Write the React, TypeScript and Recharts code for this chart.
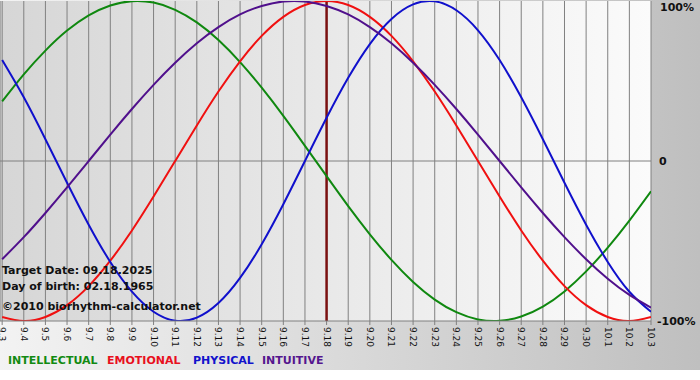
import React from 'react';
import { LineChart, Line, XAxis, YAxis, CartesianGrid, ReferenceLine } from 'recharts';

const days = ['9.3','9.4','9.5','9.6','9.7','9.8','9.9','9.10','9.11','9.12','9.13','9.14','9.15','9.16','9.17','9.18','9.19','9.20','9.21','9.22','9.23','9.24','9.25','9.26','9.27','9.28','9.29','9.30','10.1','10.2','10.3'];

const intellectual = [37.2,54.1,69.0,81.5,91.0,97.2,99.9,99.0,94.5,86.6,75.6,61.8,45.8,28.2,9.5,-9.5,-28.2,-45.8,-61.8,-75.6,-86.6,-94.5,-99.0,-99.9,-97.2,-91.0,-81.5,-69.0,-54.1,-37.2,-18.9];
const emotional = [-97.5,-100,-97.5,-90.1,-78.2,-62.3,-43.4,-22.2,0,22.2,43.4,62.3,78.2,90.1,97.5,100,97.5,90.1,78.2,62.3,43.4,22.2,0,-22.2,-43.4,-62.3,-78.2,-90.1,-97.5,-100,-97.5];
const physical = [63.1,39.8,13.6,-13.6,-39.8,-63.1,-81.7,-94.2,-99.8,-97.9,-88.8,-73.1,-52.0,-27.0,0,27.0,52.0,73.1,88.8,97.9,99.8,94.2,81.7,63.1,39.8,13.6,-13.6,-39.8,-63.1,-81.7,-94.2];
const intuitive = [-61.4,-47.6,-32.5,-16.5,0,16.5,32.5,47.6,61.4,73.6,83.7,91.6,96.9,99.7,99.7,96.9,91.6,83.7,73.6,61.4,47.6,32.5,16.5,0,-16.5,-32.5,-47.6,-61.4,-73.6,-83.7,-91.6];

const yTicks = [100, 0, -100];
const yLabels: Record<number, string> = { 100: '100%', 0: '0', [-100]: '-100%' };
const targetIndex = 15;
const infoLines = ['Target Date: 09.18.2025', 'Day of birth: 02.18.1965', '\u00A92010 biorhythm-calculator.net'];
const legendItems = [
  { name: 'INTELLECTUAL', color: '#128a12' },
  { name: 'EMOTIONAL', color: '#e8101e' },
  { name: 'PHYSICAL', color: '#1212cc' },
  { name: 'INTUITIVE', color: '#55168e' },
];

const data = days.map((d, i) => ({
  i,
  label: d,
  intellectual: intellectual[i],
  emotional: emotional[i],
  physical: physical[i],
  intuitive: intuitive[i],
}));

const FONT = '"DejaVu Sans", Verdana, sans-serif';

const XTick = (props: any) => {
  const { x, y, payload } = props;
  return (
    <text
      transform={`translate(${x},${y + 1}) rotate(90)`}
      textAnchor="start"
      dominantBaseline="central"
      fontFamily={FONT}
      fontSize={9}
      fill="#111"
    >
      {days[payload.value]}
    </text>
  );
};

const YTick = (props: any) => {
  const { y, payload } = props;
  const v = payload.value;
  const lx = v === 100 ? 660 : v === 0 ? 659 : 657;
  const ly = Math.max(y, 7);
  return (
    <text x={lx} y={ly} textAnchor="start" dominantBaseline="central" fontFamily={FONT} fontWeight="bold" fontSize={11} fill="#111">
      {yLabels[v]}
    </text>
  );
};

const legendX = [8, 107, 193, 262];
const infoY = [271, 287, 307];

export default function App() {
  return (
    <div style={{ position: 'absolute', left: 0, top: 0, width: 700, height: 380, background: '#fff' }}>
      <div style={{ position: 'absolute', left: 0, top: 0, width: 700, height: 370, background: 'linear-gradient(to right, #f3f3f3, #bfbfbf)' }} />
      <div style={{ position: 'absolute', left: 0, top: 0 }}>
        <LineChart width={700} height={370} data={data} margin={{ top: 1, right: 0, bottom: 0, left: 0 }}>
          <defs>
            <linearGradient id="plotBg" x1="0" y1="0" x2="1" y2="0">
              <stop offset="0%" stopColor="#d6d6d6" />
              <stop offset="100%" stopColor="#fbfbfb" />
            </linearGradient>
          </defs>
          <CartesianGrid horizontal={false} vertical={true} stroke="#808080" fill="url(#plotBg)" fillOpacity={1} />
          <XAxis
            dataKey="i"
            type="number"
            domain={[-0.1, 30]}
            ticks={days.map((_, i) => i)}
            interval={0}
            height={49}
            axisLine={{ stroke: '#808080' }}
            tickLine={{ stroke: '#808080' }}
            tickSize={4}
            tickMargin={1}
            tick={<XTick />}
            allowDataOverflow
          />
          <YAxis
            orientation="right"
            domain={[-100, 100]}
            ticks={yTicks}
            interval={0}
            width={49}
            axisLine={false}
            tickLine={false}
            tick={<YTick />}
            allowDataOverflow
          />
          <ReferenceLine y={0} stroke="#808080" strokeWidth={1} />
          <ReferenceLine x={targetIndex} stroke="#7a1010" strokeWidth={2.5} />
          <Line type="natural" dataKey="intellectual" stroke="#0f880f" strokeWidth={2} dot={false} isAnimationActive={false} />
          <Line type="natural" dataKey="emotional" stroke="#f01010" strokeWidth={2} dot={false} isAnimationActive={false} />
          <Line type="natural" dataKey="physical" stroke="#1010cc" strokeWidth={2} dot={false} isAnimationActive={false} />
          <Line type="natural" dataKey="intuitive" stroke="#50108c" strokeWidth={2} dot={false} isAnimationActive={false} />
        </LineChart>
      </div>
      {infoLines.map((t, k) => (
        <div key={t} style={{ position: 'absolute', left: 2, top: infoY[k] - 7, lineHeight: '14px', fontFamily: FONT, fontWeight: 'bold', fontSize: 11, color: '#111', whiteSpace: 'nowrap' }}>
          {t}
        </div>
      ))}
      {legendItems.map((l, k) => (
        <div key={l.name} style={{ position: 'absolute', left: legendX[k], top: 354, lineHeight: '14px', fontFamily: FONT, fontWeight: 'bold', fontSize: 11, color: l.color, whiteSpace: 'nowrap' }}>
          {l.name}
        </div>
      ))}
    </div>
  );
}
